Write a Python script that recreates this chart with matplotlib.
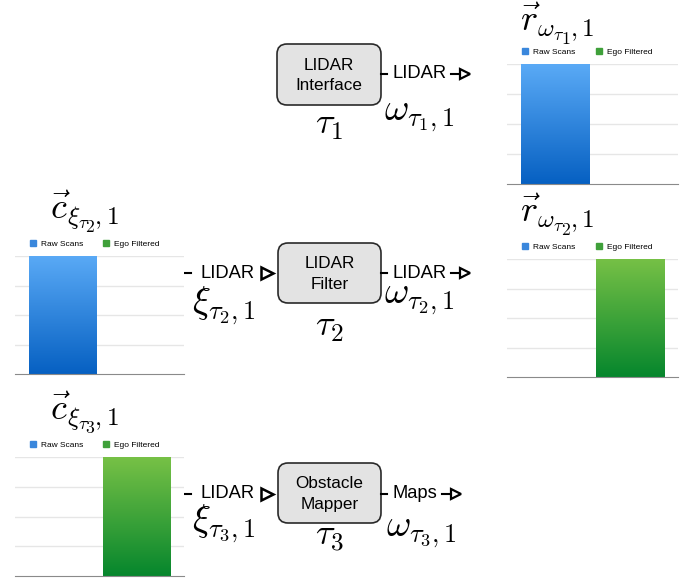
import numpy as np
import matplotlib
matplotlib.use("Agg")
import matplotlib.pyplot as plt
import matplotlib._mathtext as mt
from matplotlib.patches import FancyBboxPatch, Patch
from matplotlib.colors import LinearSegmentedColormap

plt.rcParams['font.family'] = ['Liberation Sans', 'DejaVu Sans']
plt.rcParams['mathtext.fontset'] = 'cm'
# stop shrinking after scriptscript size, like LaTeX does
mt.NUM_SIZE_LEVELS = 3

# data
categories = ['Raw Scans', 'Ego Filtered']
r_tau1 = [1, 0]
c_tau2 = [1, 0]
r_tau2 = [0, 1]
c_tau3 = [0, 1]
chart_titles = [r'$\vec{r}_{\omega_{\tau_1},1}$', r'$\vec{c}_{\xi_{\tau_2},1}$',
                r'$\vec{r}_{\omega_{\tau_2},1}$', r'$\vec{c}_{\xi_{\tau_3},1}$']
box_labels = ['LIDAR\nInterface', 'LIDAR\nFilter', 'Obstacle\nMapper']
task_labels = [r'$\tau_1$', r'$\tau_2$', r'$\tau_3$']

blue = ('#0660c2', '#5aaaf6')   # bottom, top
green = ('#06862d', '#77c146')
W, H = 699, 582
MS = 27  # math font size

fig = plt.figure(figsize=(W/100, H/100), dpi=100)
ax0 = fig.add_axes([0, 0, 1, 1])
ax0.set_xlim(0, W)
ax0.set_ylim(H, 0)
ax0.axis('off')


def chart(px0, py0, px1, py1, vals, title, tx, ty):
    ax = fig.add_axes([px0/W, 1 - py1/H, (px1-px0)/W, (py1-py0)/H])
    xs = np.arange(len(vals))
    bars = ax.bar(xs, vals, width=0.91, color='none', edgecolor='none')
    grad = np.linspace(0, 1, 256).reshape(-1, 1)
    for b, cols in zip(bars, [blue, green]):
        if b.get_height() <= 0:
            continue
        cmap = LinearSegmentedColormap.from_list('g', list(cols))
        im = ax.imshow(grad, extent=[b.get_x(), b.get_x()+b.get_width(), 0, b.get_height()],
                       origin='lower', cmap=cmap, aspect='auto', zorder=2)
        im.set_clip_path(b)
    ax.set_xlim(-0.647, 1.633)
    ax.set_ylim(0, 1)
    ax.set_yticks([0.25, 0.5, 0.75, 1.0])
    ax.grid(axis='y', color='#e6e6e6', lw=1)
    ax.set_axisbelow(True)
    for s in ['top', 'right', 'left']:
        ax.spines[s].set_visible(False)
    ax.spines['bottom'].set_color('#8a8a8a')
    ax.tick_params(left=False, bottom=False, labelleft=False, labelbottom=False)
    handles = [Patch(color='#3a87dc'), Patch(color='#3fa03a')]
    ax.legend(handles, categories, ncol=2, loc='lower left', bbox_to_anchor=(0.09, 1.065),
              frameon=False, fontsize=6, handlelength=0.72, handleheight=0.72,
              handletextpad=0.6, columnspacing=2.4, borderpad=0, borderaxespad=0)
    ax0.text(tx, ty, title, fontsize=MS-1, ha='left', va='baseline')
    return ax


chart(507, 64, 678, 184, r_tau1, chart_titles[0], 520, 32)
chart(15, 256, 184, 374, c_tau2, chart_titles[1], 50, 220)
chart(507, 259, 678, 377, r_tau2, chart_titles[2], 520, 223)
chart(15, 457, 184, 576, c_tau3, chart_titles[3], 50, 421)

# task boxes
boxes = [(277, 44, 381, 105), (278, 243, 381, 303), (278, 463, 381, 523)]
task_y = [125, 326, 537]
for (x0, y0, x1, y1), lab, tl, ty in zip(boxes, box_labels, task_labels, task_y):
    ax0.add_patch(FancyBboxPatch((x0, y0), x1-x0, y1-y0,
                                 boxstyle='round,pad=0,rounding_size=10',
                                 fc='#e3e3e3', ec='#2a2a2a', lw=1.2))
    ax0.text((x0+x1)/2, (y0+y1)/2 + 1, lab, fontsize=12.3, ha='center', va='center',
             linespacing=1.45)
    ax0.text((x0+x1)/2, ty, tl, fontsize=MS-1, ha='center', va='center')


def out_port(x, y, lab, sym, sx, sy):
    ax0.plot([x, x+6], [y, y], color='k', lw=1.5)
    t = ax0.text(x+11, y, lab, fontsize=13.2, ha='left', va='center')
    fig.canvas.draw()
    bb = t.get_window_extent()
    xe = bb.x1 + 5
    ax0.plot([xe, xe+10], [y, y], color='k', lw=1.5)
    ax0.plot(xe+14, y, marker='>', ms=7, mfc='white', mec='k', mew=1.6)
    ax0.text(sx, sy, sym, fontsize=MS, ha='left', va='center')


def in_port(x, y, lab, sym, sx, sy):
    ax0.plot([x, x+6], [y, y], color='k', lw=1.5)
    ax0.text(x+15, y, lab, fontsize=13.2, ha='left', va='center')
    ax0.plot(x+82, y, marker='>', ms=8, mfc='white', mec='k', mew=1.8)
    ax0.text(sx, sy, sym, fontsize=MS, ha='left', va='center')


out_port(381, 74, 'LIDAR', r'$\omega_{\tau_1,1}$', 384, 116)
in_port(185, 273, 'LIDAR', r'$\xi_{\tau_2,1}$', 192, 306)
out_port(381, 273, 'LIDAR', r'$\omega_{\tau_2,1}$', 384, 299)
in_port(185, 494, 'LIDAR', r'$\xi_{\tau_3,1}$', 192, 524)
out_port(381, 494, 'Maps', r'$\omega_{\tau_3,1}$', 386, 532)

fig.savefig('out.png', dpi=100)
